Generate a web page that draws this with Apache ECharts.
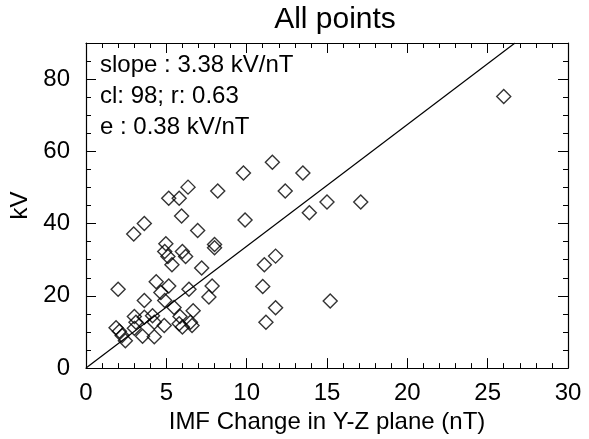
<!DOCTYPE html>
<html>
<head>
<meta charset="utf-8">
<script src="https://cdn.jsdelivr.net/npm/echarts@6/dist/echarts.min.js"></script>
<style>html,body{margin:0;padding:0;background:#fff}#c{width:589px;height:439px}</style>
</head>
<body>
<div id="c"></div>
<script>
const imfChange = [26.0,17.1,15.0,15.2,13.9,13.5,12.4,11.6,9.8,9.9,11.8,11.1,11.0,11.8,11.2,
  8.2,6.35,5.15,5.8,5.95,6.95,3.63,2.97,8.0,8.0,4.97,4.9,5.1,5.35,6.0,6.2,7.2,
  2.0,4.37,5.15,4.66,4.9,3.63,6.41,7.85,7.65,5.48,6.67,5.85,5.8,6.0,6.5,6.6,
  1.87,2.08,2.25,2.45,3.01,3.11,3.01,3.63,3.52,4.14,4.25,4.25,4.87];
const kV = [75.2,46.0,46.0,18.6,43.0,54.0,49.0,57.0,54.0,41.0,31.0,28.6,22.6,16.7,12.7,
  49.0,50.1,47.0,47.0,42.1,38.1,40.0,37.1,34.2,33.3,34.4,32.3,30.9,28.6,32.3,30.9,27.7,
  21.8,23.9,22.7,20.9,18.7,18.7,21.8,22.7,19.7,16.8,15.9,14.3,12.3,11.4,12.7,11.8,
  11.2,10.2,9.0,7.6,14.3,12.7,11.0,14.1,8.8,14.5,12.7,8.7,11.8];
const fitLine = [[0,0],[26.7,90]];
const xTicks = ['0','5','10','15','20','25','30'];
const yTicks = ['0','20','40','60','80'];
const annotations = ['slope : 3.38 kV/nT','cl: 98; r: 0.63','e : 0.38 kV/nT'];

const FONT = "'Liberation Sans', Arial, sans-serif";
const points = imfChange.map((x,i)=>[x,kV[i]]);
const chart = echarts.init(document.getElementById('c'));

function xAx(pos, interval, len, labels, line){
  return {type:'value', min:0, max:30, interval:interval, position:pos,
    axisLine:{show:line, onZero:false, lineStyle:{color:'#000',width:1.2}},
    axisTick:{show:true, inside:true, length:len, lineStyle:{color:'#000',width:1}},
    axisLabel:{show:labels, color:'#000', fontSize:24, fontFamily:FONT, margin:13,
      formatter:v=>xTicks.indexOf(String(v))>=0?String(v):''},
    splitLine:{show:false},
    name: labels?'IMF Change in Y-Z plane (nT)':'', nameLocation:'middle', nameGap:38,
    nameTextStyle:{color:'#000',fontSize:24,fontFamily:FONT}};
}
function yAx(pos, interval, len, labels, line){
  return {type:'value', min:0, max:90, interval:interval, position:pos,
    axisLine:{show:line, onZero:false, lineStyle:{color:'#000',width:1.2}},
    axisTick:{show:true, inside:true, length:len, lineStyle:{color:'#000',width:1}},
    axisLabel:{show:labels, color:'#000', fontSize:24, fontFamily:FONT, margin:16, showMaxLabel:false,
      formatter:v=>yTicks.indexOf(String(v))>=0?String(v):''},
    splitLine:{show:false},
    name: labels?'kV':'', nameLocation:'middle', nameGap:54, nameRotate:90,
    nameTextStyle:{color:'#000',fontSize:24,fontFamily:FONT}};
}

chart.setOption({
  animation:false,
  backgroundColor:'#fff',
  title:{text:'All points', left:330, top:0, textAlign:'center',
    textStyle:{color:'#000',fontSize:30,fontWeight:'normal',fontFamily:FONT}},
  grid:{left:83, right:21, top:43, bottom:66},
  xAxis:[xAx('bottom',5,10,true,true), xAx('bottom',1,5,false,false), xAx('top',5,10,false,true), xAx('top',1,5,false,false)],
  yAxis:[yAx('left',20,10,true,true), yAx('left',5,5,false,false), yAx('right',20,10,false,true), yAx('right',5,5,false,false)],
  graphic: annotations.map((t,i)=>({type:'text', left:100, top:53+i*31,
    style:{text:t, fill:'#000', fontSize:24, fontFamily:FONT}})),
  series:[
    {type:'scatter', xAxisIndex:0, yAxisIndex:0, data:points, symbol:'diamond', symbolSize:[14,14],
      itemStyle:{color:'rgba(0,0,0,0)', borderColor:'#000', borderWidth:1.4}},
    {type:'line', xAxisIndex:0, yAxisIndex:0, data:fitLine, symbol:'none',
      lineStyle:{color:'#000', width:1.2}}
  ]
});
</script>
</body>
</html>
